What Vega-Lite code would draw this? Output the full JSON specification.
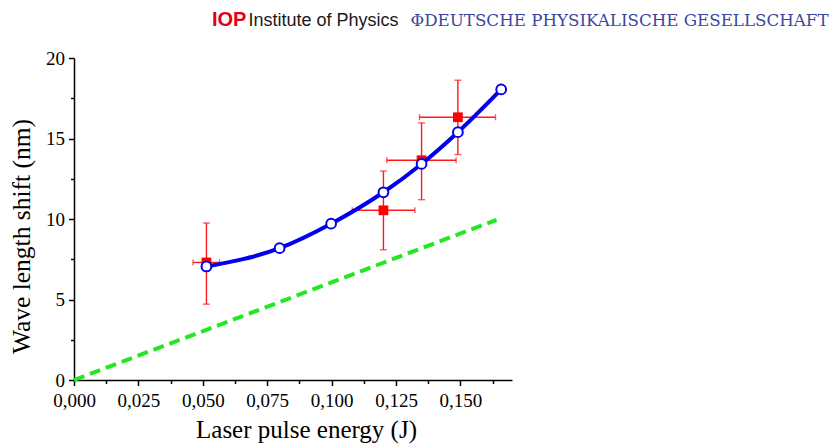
{
  "$schema": "https://vega.github.io/schema/vega-lite/v6.json",
  "width": 438,
  "height": 322,
  "autosize": {"type": "none"},
  "padding": {"left": 74, "top": 58, "right": 322, "bottom": 66},
  "background": "white",
  "title": {
    "text": "IOP",
    "anchor": "start",
    "frame": "group",
    "orient": "top",
    "offset": 0,
    "dx": 138,
    "dy": 35,
    "baseline": "alphabetic",
    "font": "Liberation Sans",
    "fontSize": 20,
    "fontWeight": "bold",
    "color": "#e2001a"
  },
  "config": {"view": {"stroke": null}, "axis": {"grid": false}},
  "datasets": {
    "model": [
      {"energy": 0.0514, "shift": 7.05},
      {"energy": 0.0798, "shift": 8.19},
      {"energy": 0.0998, "shift": 9.71},
      {"energy": 0.1201, "shift": 11.66},
      {"energy": 0.1349, "shift": 13.42},
      {"energy": 0.149, "shift": 15.39},
      {"energy": 0.1658, "shift": 18.05}
    ],
    "exp": [
      {"energy": 0.0514, "shift": 7.3, "elo": 0.0462, "ehi": 0.0565, "slo": 4.71, "shi": 9.75},
      {"energy": 0.1201, "shift": 10.54, "elo": 0.108, "ehi": 0.1323, "slo": 8.09, "shi": 12.98},
      {"energy": 0.1349, "shift": 13.65, "elo": 0.1214, "ehi": 0.1483, "slo": 11.2, "shi": 15.97},
      {"energy": 0.149, "shift": 16.32, "elo": 0.1341, "ehi": 0.1636, "slo": 14.0, "shi": 18.62}
    ],
    "linear": [
      {"energy": 0, "shift": 0},
      {"energy": 0.164, "shift": 9.95}
    ]
  },
  "layer": [
    {
      "data": {"name": "linear"},
      "mark": {"type": "line", "color": "#22e822", "strokeWidth": 4, "strokeDash": [11, 6]},
      "encoding": {
        "x": {
          "field": "energy", "type": "quantitative",
          "scale": {"domain": [0, 0.17], "nice": false, "zero": false},
          "axis": {
            "orient": "bottom",
            "title": "Laser pulse energy (J)",
            "values": [0, 0.0125, 0.025, 0.0375, 0.05, 0.0625, 0.075, 0.0875, 0.1, 0.1125, 0.125, 0.1375, 0.15, 0.1625],
            "labelExpr": "round(datum.value*80) % 2 == 0 ? replace(format(datum.value, '.3f'), '.', ',') : ''",
            "tickSize": {"condition": {"test": "round(datum.value*80) % 2 == 1", "value": 3.5}, "value": 5.5},
            "tickWidth": 1.5,
            "tickColor": "black",
            "domainColor": "black",
            "domainWidth": 1.5,
            "labelFont": "Liberation Serif",
            "labelFontSize": 19,
            "labelColor": "black",
            "labelPadding": 6,
            "labelFlush": false,
            "labelOverlap": false,
            "titleFont": "Liberation Serif",
            "titleFontSize": 25,
            "titleFontWeight": "normal",
            "titleColor": "black",
            "titleX": 232,
            "titleY": 57,
            "titleAlign": "center",
            "titleBaseline": "alphabetic",
            "grid": false
          }
        },
        "y": {
          "field": "shift", "type": "quantitative",
          "scale": {"domain": [0, 20], "nice": false, "zero": false},
          "axis": {
            "orient": "left",
            "title": "Wave length shift (nm)",
            "values": [0, 2.5, 5, 7.5, 10, 12.5, 15, 17.5, 20],
            "labelExpr": "datum.value % 5 == 0 ? format(datum.value, 'd') : ''",
            "tickSize": {"condition": {"test": "datum.value % 5 != 0", "value": 3.5}, "value": 5.5},
            "tickWidth": 1.5,
            "tickColor": "black",
            "domainColor": "black",
            "domainWidth": 1.5,
            "labelFont": "Liberation Serif",
            "labelFontSize": 19,
            "labelColor": "black",
            "labelPadding": 4,
            "labelFlush": false,
            "labelOverlap": false,
            "titleFont": "Liberation Serif",
            "titleFontSize": 25.5,
            "titleFontWeight": "normal",
            "titleColor": "black",
            "titleAngle": -90,
            "titleX": -45,
            "titleY": 178,
            "titleAlign": "center",
            "titleBaseline": "alphabetic",
            "grid": false
          }
        }
      }
    },
    {
      "data": {"name": "exp"},
      "mark": {"type": "errorbar", "color": "#ff1a1a", "thickness": 1.4, "ticks": {"size": 7}},
      "encoding": {
        "x": {"field": "energy", "type": "quantitative", "axis": null},
        "y": {"field": "slo", "type": "quantitative", "axis": null},
        "y2": {"field": "shi"}
      }
    },
    {
      "data": {"name": "exp"},
      "mark": {"type": "errorbar", "color": "#ff1a1a", "thickness": 1.4, "ticks": {"size": 6}},
      "encoding": {
        "y": {"field": "shift", "type": "quantitative", "axis": null},
        "x": {"field": "elo", "type": "quantitative", "axis": null},
        "x2": {"field": "ehi"}
      }
    },
    {
      "data": {"name": "exp"},
      "mark": {"type": "point", "shape": "square", "filled": true, "color": "#ff0000", "size": 95, "opacity": 1},
      "encoding": {
        "x": {"field": "energy", "type": "quantitative", "axis": null},
        "y": {"field": "shift", "type": "quantitative", "axis": null}
      }
    },
    {
      "data": {"name": "model"},
      "mark": {"type": "line", "interpolate": "monotone", "color": "#0000ee", "strokeWidth": 4},
      "encoding": {
        "x": {
          "field": "energy", "type": "quantitative",
          "axis": {
            "orient": "top",
            "title": "Institute of Physics",
            "domain": false, "ticks": false, "labels": false, "grid": false,
            "titleX": 174, "titleY": -33,
            "titleAlign": "left", "titleBaseline": "alphabetic",
            "titleFont": "Liberation Sans", "titleFontSize": 18, "titleFontWeight": "normal",
            "titleColor": "#1a1a1a"
          }
        },
        "y": {
          "field": "shift", "type": "quantitative",
          "axis": {
            "orient": "right",
            "title": "ΦDEUTSCHE PHYSIKALISCHE GESELLSCHAFT",
            "domain": false, "ticks": false, "labels": false, "grid": false,
            "titleAngle": 0,
            "titleX": -102, "titleY": -33,
            "titleAlign": "left", "titleBaseline": "alphabetic",
            "titleFont": "DejaVu Serif", "titleFontSize": 16.7, "titleFontWeight": "normal",
            "titleColor": "#3a46a0"
          }
        }
      }
    },
    {
      "data": {"name": "model"},
      "mark": {"type": "point", "shape": "circle", "filled": true, "fill": "white", "stroke": "#0000ee", "strokeWidth": 2, "size": 95, "opacity": 1},
      "encoding": {
        "x": {"field": "energy", "type": "quantitative", "axis": null},
        "y": {"field": "shift", "type": "quantitative", "axis": null}
      }
    }
  ]
}
